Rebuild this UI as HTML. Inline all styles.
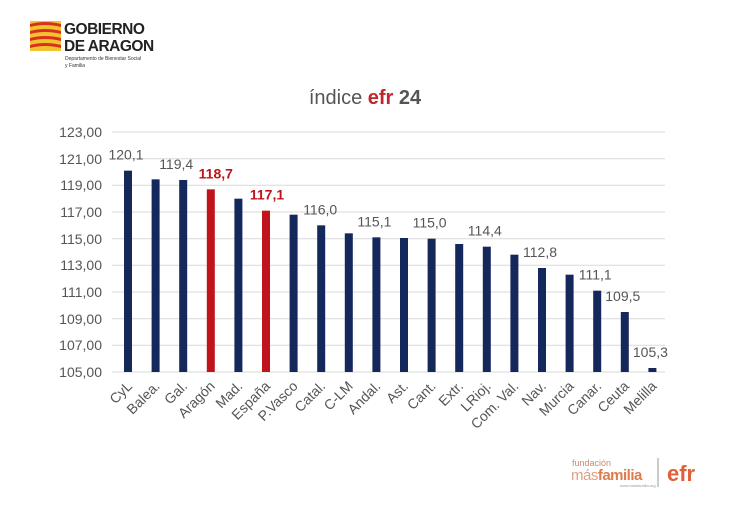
<!DOCTYPE html>
<html><head><meta charset="utf-8"><style>
body{margin:0;background:#fff;width:730px;height:500px;overflow:hidden;font-family:"Liberation Sans",sans-serif}
</style></head><body>
<svg width="730" height="500" xmlns="http://www.w3.org/2000/svg" font-family="Liberation Sans, sans-serif">
<g>
<rect x="30" y="21" width="31" height="30" fill="#f2c230"/>
<path d="M30 24 Q45 20 61 24 L61 27 Q45 23 30 27Z M30 31 Q45 27 61 31 L61 34 Q45 30 30 34Z M30 38 Q45 34 61 38 L61 41 Q45 37 30 41Z M30 45 Q45 41 61 45 L61 48 Q45 44 30 48Z" fill="#d8321f"/>
<text x="64" y="34" font-size="15.5" font-weight="bold" fill="#222" letter-spacing="-0.5">GOBIERNO</text>
<text x="64" y="51" font-size="15.5" font-weight="bold" fill="#222" letter-spacing="-0.5">DE ARAGON</text>
<text x="65" y="60" font-size="5" fill="#333">Departamento de Bienestar Social</text>
<text x="65" y="67" font-size="5" fill="#333">y Familia</text>
</g>
<text x="365" y="104" font-size="20" text-anchor="middle" fill="#555">índice <tspan fill="#c0272d" font-weight="bold">efr</tspan> <tspan font-weight="bold">24</tspan></text>
<g stroke="#d9d9d9" stroke-width="1">
<line x1="112" x2="665" y1="132" y2="132"/><line x1="112" x2="665" y1="158.7" y2="158.7"/><line x1="112" x2="665" y1="185.3" y2="185.3"/><line x1="112" x2="665" y1="212" y2="212"/><line x1="112" x2="665" y1="238.7" y2="238.7"/><line x1="112" x2="665" y1="265.3" y2="265.3"/><line x1="112" x2="665" y1="292" y2="292"/><line x1="112" x2="665" y1="318.7" y2="318.7"/><line x1="112" x2="665" y1="345.3" y2="345.3"/><line x1="112" x2="665" y1="372" y2="372"/>
</g>
<g font-size="14" fill="#555" text-anchor="end">
<text x="102" y="137">123,00</text><text x="102" y="164">121,00</text><text x="102" y="190">119,00</text><text x="102" y="217">117,00</text><text x="102" y="244">115,00</text><text x="102" y="270">113,00</text><text x="102" y="297">111,00</text><text x="102" y="324">109,00</text><text x="102" y="350">107,00</text><text x="102" y="377">105,00</text>
</g>
<g id="bars"></g>
<g id="labels"></g>
<g id="xl"></g>
<text x="572" y="466" font-size="9" fill="#c98a6a">fundación</text>
<text x="571" y="480" font-size="15" fill="#e0a080" letter-spacing="-0.5">más<tspan font-weight="bold" fill="#e07a4a">familia</tspan></text>
<text x="620" y="487" font-size="4" fill="#999">www.masfamilia.org</text>
<line x1="658" y1="458" x2="658" y2="487" stroke="#999"/>
<text x="667" y="481" font-size="22" font-weight="bold" fill="#e0603a">efr</text>
<script>
var d=[["CyL",120.1,"120,1",0,-2],["Balea.",119.45,""],["Gal.",119.4,"119,4",0,-7],["Aragón",118.7,"118,7",1,5],["Mad.",118.0,""],["España",117.1,"117,1",1,1],["P.Vasco",116.8,""],["Catal.",116.0,"116,0",0,-1],["C-LM",115.4,""],["Andal.",115.1,"115,1",0,-2],["Ast.",115.05,""],["Cant.",115.0,"115,0",0,-2],["Extr.",114.6,""],["LRioj.",114.4,"114,4",0,-2],["Com. Val.",113.8,""],["Nav.",112.8,"112,8",0,-2],["Murcia",112.3,""],["Canar.",111.1,"111,1",0,-2],["Ceuta",109.5,"109,5",0,-2],["Melilla",105.3,"105,3",0,-2]];
var ns="http://www.w3.org/2000/svg",b=document.getElementById("bars"),l=document.getElementById("labels"),x=document.getElementById("xl");
function el(t,a,p,txt){var e=document.createElementNS(ns,t);for(var k in a)e.setAttribute(k,a[k]);if(txt)e.textContent=txt;p.appendChild(e);}
d.forEach(function(r,i){var cx=128+i*27.6,y=372-(r[1]-105)*13.333;
el("rect",{x:cx-4,y:y,width:8,height:372-y,fill:r[3]?"#c0141c":"#14285c"},b);
if(r[2])el("text",{x:cx+(r[4]||0),y:y-11,"font-size":14,"text-anchor":"middle",fill:r[3]?"#c0141c":"#555","font-weight":r[3]?"bold":"normal"},l,r[2]);
el("text",{x:cx+5,y:387,"font-size":14,"text-anchor":"end",fill:"#555",transform:"rotate(-45 "+(cx+5)+" 387)"},x,r[0]);});
</script>
</svg>
</body></html>
